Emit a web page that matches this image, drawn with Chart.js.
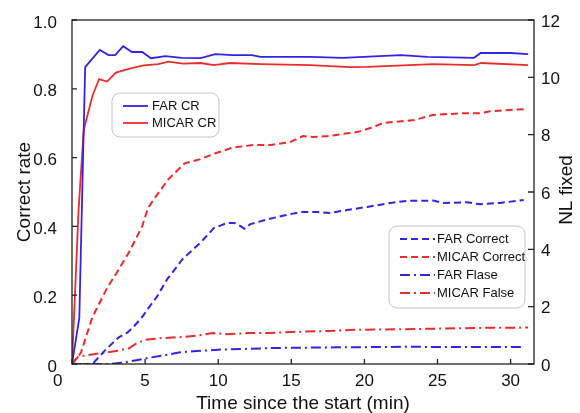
<!DOCTYPE html>
<html><head><meta charset="utf-8">
<script src="https://cdn.jsdelivr.net/npm/chart.js@4.4.0/dist/chart.umd.min.js"></script>
<style>html,body{margin:0;padding:0;background:#fff;}#wrap{width:580px;height:413px;position:relative;}</style>
</head><body><div id="wrap"><canvas id="c"></canvas></div>
<script>
// ---- data ----
const xTickValues = [0, 5, 10, 15, 20, 25, 30];
const leftTickValues = [0, 0.2, 0.4, 0.6, 0.8, 1.0];
const rightTickValues = [0, 2, 4, 6, 8, 10, 12];

const farCrTime   = [0, 0.5, 0.9, 1.9, 2.5, 2.95, 3.5, 4.1, 4.8, 5.4, 6.4, 7.5, 8.8, 9.8, 11.0, 12.3, 12.9, 16.3, 18.5, 22.5, 24.3, 27.5, 27.95, 30.0, 31.2];
const farCrValues = [0, 0.134, 0.863, 0.913, 0.898, 0.898, 0.924, 0.907, 0.907, 0.889, 0.895, 0.890, 0.889, 0.901, 0.898, 0.898, 0.893, 0.893, 0.890, 0.898, 0.893, 0.890, 0.904, 0.904, 0.901];

const micarCrTime   = [0, 0.45, 0.8, 1.4, 1.85, 2.4, 3.0, 3.7, 4.3, 4.9, 5.9, 6.6, 7.6, 8.8, 9.7, 10.8, 12.9, 16.3, 19.0, 20.2, 24.7, 27.5, 28.0, 31.2];
const micarCrValues = [0, 0.448, 0.68, 0.78, 0.828, 0.821, 0.847, 0.856, 0.862, 0.868, 0.872, 0.879, 0.873, 0.875, 0.869, 0.875, 0.872, 0.869, 0.863, 0.864, 0.872, 0.869, 0.875, 0.869];

const farCorrectTime   = [0, 1.4, 2.3, 3.2, 3.8, 4.2, 4.8, 5.3, 5.8, 6.5, 7.6, 8.8, 9.7, 10.6, 11.1, 11.4, 11.8, 12.2, 13.4, 14.5, 15.6, 16.8, 17.7, 18.8, 20.2, 21.8, 22.9, 24.7, 25.4, 27.0, 27.9, 29.3, 30.9];
const farCorrectValues = [0, 0, 0.5, 0.93, 1.1, 1.29, 1.64, 2.0, 2.34, 2.95, 3.68, 4.24, 4.74, 4.92, 4.92, 4.85, 4.72, 4.88, 5.05, 5.18, 5.30, 5.30, 5.27, 5.37, 5.48, 5.62, 5.69, 5.70, 5.62, 5.64, 5.57, 5.62, 5.72];

const micarCorrectTime   = [0, 0.15, 0.6, 1.4, 2.4, 3.2, 3.9, 4.4, 4.8, 5.2, 5.9, 6.6, 7.7, 8.8, 9.8, 11.0, 12.4, 13.6, 14.9, 15.8, 16.5, 17.5, 19.0, 19.5, 20.4, 21.3, 23.4, 24.7, 26.8, 27.9, 28.6, 30.9];
const micarCorrectValues = [0, 0.1, 0.38, 1.64, 2.65, 3.3, 3.9, 4.4, 4.8, 5.45, 5.96, 6.45, 7.0, 7.15, 7.35, 7.55, 7.64, 7.64, 7.74, 7.95, 7.92, 7.95, 8.06, 8.09, 8.23, 8.41, 8.51, 8.69, 8.75, 8.75, 8.82, 8.89];

const farFalseTime   = [0, 2.5, 3.5, 4.5, 5.3, 6.3, 7.3, 8.5, 10.0, 12.0, 14.0, 18.0, 23.0, 27.0, 30.9];
const farFalseValues = [0, 0, 0.05, 0.14, 0.22, 0.3, 0.4, 0.45, 0.5, 0.53, 0.56, 0.58, 0.6, 0.59, 0.59];

const micarFalseTime   = [0, 0.4, 1.0, 2.0, 3.0, 3.9, 4.4, 5.0, 6.0, 7.5, 8.6, 9.6, 10.6, 12.0, 13.4, 15.0, 17.5, 19.0, 23.5, 28.0, 31.2];
const micarFalseValues = [0, 0.25, 0.3, 0.38, 0.45, 0.55, 0.72, 0.84, 0.9, 0.94, 0.99, 1.08, 1.04, 1.08, 1.08, 1.12, 1.15, 1.19, 1.22, 1.26, 1.27];

// ---- styling ----
const BLUE = '#3322e8';
const RED = '#ec2b2b';
const DASH = [7, 4];
const DASHDOT = [10, 4, 2, 4];
const FONT = 'Liberation Sans, Arial, Helvetica, sans-serif';

function pts(t, v) { return t.map((x, i) => ({x: x, y: v[i]})); }
function ds(label, t, v, color, axis, dash, width) {
  return {label, data: pts(t, v), borderColor: color, backgroundColor: color, yAxisID: axis,
    borderDash: dash, borderWidth: width, pointRadius: 0, tension: 0, fill: false};
}

const datasets = [
  ds('FAR CR', farCrTime, farCrValues, BLUE, 'y', [], 1.8),
  ds('MICAR CR', micarCrTime, micarCrValues, RED, 'y', [], 1.8),
  ds('FAR Correct', farCorrectTime, farCorrectValues, BLUE, 'y2', DASH, 2),
  ds('MICAR Correct', micarCorrectTime, micarCorrectValues, RED, 'y2', DASH, 2),
  ds('FAR Flase', farFalseTime, farFalseValues, BLUE, 'y2', DASHDOT, 2),
  ds('MICAR False', micarFalseTime, micarFalseValues, RED, 'y2', DASHDOT, 2)
];

function drawLegend(ctx, chart, box, idxs, rowY, lineX0, lineX1, textX) {
  ctx.save();
  ctx.beginPath();
  ctx.roundRect(box[0], box[1], box[2], box[3], 8);
  ctx.fillStyle = '#ffffff';
  ctx.fill();
  ctx.strokeStyle = '#c4c4c4';
  ctx.lineWidth = 1;
  ctx.stroke();
  idxs.forEach((di, k) => {
    const d = chart.data.datasets[di];
    const y = rowY[k];
    ctx.beginPath();
    ctx.setLineDash(d.borderDash || []);
    ctx.strokeStyle = d.borderColor;
    ctx.lineWidth = d.borderWidth;
    ctx.moveTo(lineX0, y); ctx.lineTo(lineX1, y);
    ctx.stroke();
    ctx.setLineDash([]);
    ctx.fillStyle = '#111';
    ctx.font = '13px ' + FONT;
    ctx.textAlign = 'left';
    ctx.textBaseline = 'middle';
    ctx.fillText(d.label, textX, y + 0.5);
  });
  ctx.restore();
}

const framePlugin = {
  id: 'frame',
  afterDraw(chart) {
    const {ctx, chartArea: a, scales} = chart;
    ctx.save();
    ctx.strokeStyle = '#222';
    ctx.lineWidth = 1.3;
    ctx.strokeRect(a.left, a.top, a.right - a.left, a.bottom - a.top);
    ctx.beginPath();
    xTickValues.forEach(v => { const p = scales.x.getPixelForValue(v); ctx.moveTo(p, a.bottom); ctx.lineTo(p, a.bottom - 5); });
    leftTickValues.forEach(v => { const p = scales.y.getPixelForValue(v); ctx.moveTo(a.left, p); ctx.lineTo(a.left + 5, p); });
    rightTickValues.forEach(v => { const p = scales.y2.getPixelForValue(v); ctx.moveTo(a.right, p); ctx.lineTo(a.right - 6, p); });
    ctx.stroke();
    // right axis title (reads bottom to top)
    ctx.translate(567, (a.top + a.bottom) / 2 - 2);
    ctx.rotate(-Math.PI / 2);
    ctx.fillStyle = '#111';
    ctx.font = '19px ' + FONT;
    ctx.textAlign = 'center';
    ctx.textBaseline = 'middle';
    ctx.fillText('NL fixed', 0, 0);
    ctx.restore();
    drawLegend(ctx, chart, [112, 93, 107, 44], [0, 1], [106, 123], 123, 148, 152);
    drawLegend(ctx, chart, [389, 226, 136, 82], [2, 3, 4, 5], [239, 257, 275, 293], 400, 435, 437);
  }
};

new Chart(document.getElementById('c'), {
  type: 'line',
  data: {datasets},
  plugins: [framePlugin],
  options: {
    responsive: true,
    maintainAspectRatio: false,
    animation: false,
    devicePixelRatio: 1,
    layout: {padding: {top: 20, left: 0, right: 0, bottom: 0}},
    plugins: {legend: {display: false}, tooltip: {enabled: false}},
    scales: {
      x: {
        type: 'linear', min: 0, max: 31.6,
        afterBuildTicks: s => { s.ticks = xTickValues.map(v => ({value: v})); },
        afterFit: s => { s.height = 49; },
        grid: {display: false, drawTicks: true, tickLength: 7}, border: {display: false},
        ticks: {padding: 0, color: '#111', font: {size: 17, family: FONT},
          callback: v => v === 0 ? '0      ' : String(v)},
        title: {display: true, text: 'Time since the start (min)', color: '#111',
          font: {size: 19, family: FONT, lineHeight: 1.0}, padding: {top: 0, bottom: 0}}
      },
      y: {
        position: 'left', min: 0, max: 1,
        afterBuildTicks: s => { s.ticks = leftTickValues.map(v => ({value: v})); },
        afterFit: s => { s.width = 72; },
        grid: {display: false, drawTicks: true, tickLength: 15}, border: {display: false},
        ticks: {padding: 0, labelOffset: 3, color: '#111', font: {size: 17, family: FONT},
          callback: v => v === 0 ? '0' : v.toFixed(1)},
        title: {display: true, text: 'Correct rate', color: '#111',
          font: {size: 19, family: FONT}, padding: {top: 13, bottom: 0}}
      },
      y2: {
        position: 'right', min: 0, max: 12,
        afterBuildTicks: s => { s.ticks = rightTickValues.map(v => ({value: v})); },
        afterFit: s => { s.width = 46; },
        grid: {display: false, drawTicks: true, tickLength: 7}, border: {display: false},
        ticks: {padding: 0, labelOffset: 2, color: '#111', font: {size: 17, family: FONT},
          callback: v => String(v)}
      }
    }
  }
});
</script></body></html>
